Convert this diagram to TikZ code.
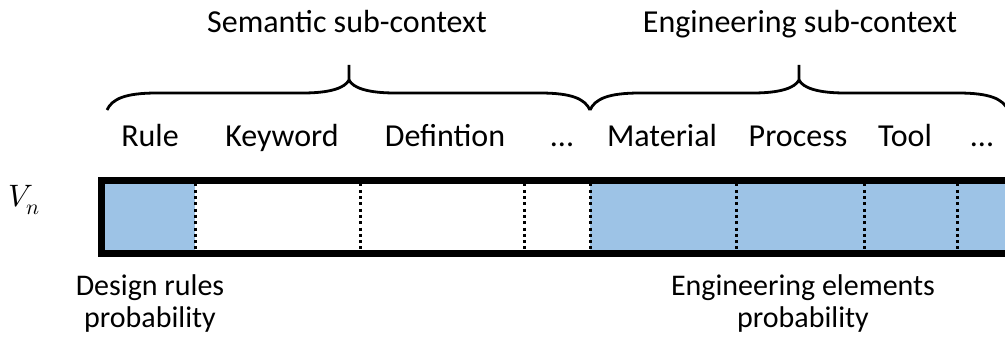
\documentclass[tikz,border=0pt]{standalone}
\usepackage{fontspec}
\usepackage{unicode-math}
\setmainfont{Carlito}
\setmathfont{Latin Modern Math}
\begin{document}
\begin{tikzpicture}[x=1pt,y=-1pt,
  lbl/.style={inner sep=0pt, anchor=base, font=\fontsize{32}{34}\selectfont},
  blbl/.style={inner sep=0pt, anchor=base, align=center, font=\fontsize{30}{32}\selectfont},
  sep/.style={line width=3pt, dash pattern=on 3pt off 3.3pt},
  bracepath/.style={line width=2.8pt, line join=round},
  frame/.style={line width=7pt}]
\definecolor{cellblue}{RGB}{157,195,230}
\useasboundingbox (0,0) rectangle (1005,339);
\clip (0,0) rectangle (1005,339);
% fills
\fill[cellblue] (101,180) rectangle (195,254);
\fill[cellblue] (590,180) rectangle (1015,254);
% separators
\foreach \x in {195,360,524,590,736,864,957}
  \draw[sep] (\x,183.5) -- (\x,251);
% frame
\draw[frame] (101.5,180.5) rectangle (1013,253.5);
% braces
\draw[bracepath] (107,110) .. controls (112,99) and (125,93) .. (157,93)
  -- (303,93) .. controls (330,93) and (345,88) .. (349,80) -- (349,65);
\draw[bracepath] (349,80) .. controls (353,88) and (368,93) .. (395,93)
  -- (540,93) .. controls (572,93) and (585,99) .. (590,110);
\draw[bracepath] (590,110) .. controls (595,99) and (608,93) .. (640,93)
  -- (753,93) .. controls (780,93) and (795,88) .. (799,80) -- (799,65);
\draw[bracepath] (799,80) .. controls (803,88) and (818,93) .. (845,93)
  -- (958,93) .. controls (990,93) and (1003,99) .. (1008,110);
% headings
\node[lbl] (sem) at (347,33) {Semantic sub-context};
\node[lbl] (eng) at (800,33) {Engineering sub-context};
% cell labels
\node[lbl] (rule) at (150,147) {Rule};
\node[lbl] (kw) at (282,147) {Keyword};
\node[lbl] (def) at (445,147) {Defintion};
\node[lbl] (dots1) at (562,147) {...};
\node[lbl] (mat) at (662,147) {Material};
\node[lbl] (proc) at (798,147) {Process};
\node[lbl] (tool) at (905,147) {Tool};
\node[lbl] (dots2) at (982,147) {...};
% vector name
\node[inner sep=0pt, anchor=base west, font=\fontsize{31}{34}\selectfont] (vn) at (8,207) {$V_n$};
% bottom labels
\node[blbl] (drp) at (150,327) {Design rules\\probability};
\node[blbl] (eep) at (803,327) {Engineering elements\\probability};
\end{tikzpicture}
\end{document}
